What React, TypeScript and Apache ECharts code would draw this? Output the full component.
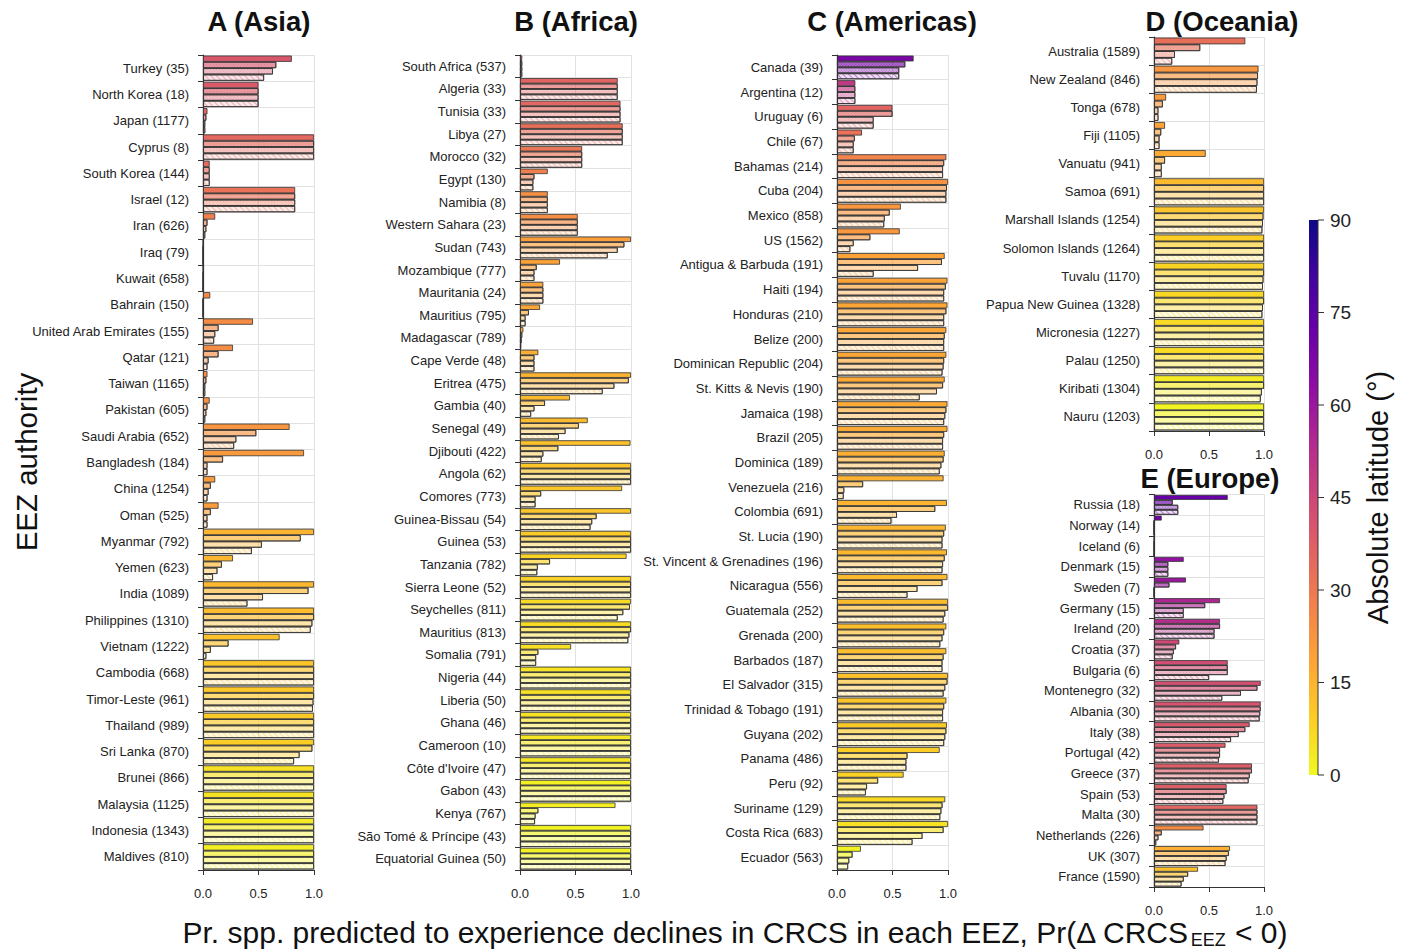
import React, { useEffect, useRef } from 'react';
import * as echarts from 'echarts';

// ---------- DATA ----------
const asiaNames = ["Turkey (35)","North Korea (18)","Japan (1177)","Cyprus (8)","South Korea (144)","Israel (12)","Iran (626)","Iraq (79)","Kuwait (658)","Bahrain (150)","United Arab Emirates (155)","Qatar (121)","Taiwan (1165)","Pakistan (605)","Saudi Arabia (652)","Bangladesh (184)","China (1254)","Oman (525)","Myanmar (792)","Yemen (623)","India (1089)","Philippines (1310)","Vietnam (1222)","Cambodia (668)","Timor-Leste (961)","Thailand (989)","Sri Lanka (870)","Brunei (866)","Malaysia (1125)","Indonesia (1343)","Maldives (810)"];
const asiaLat = [40,39,36,35,34.5,32,28,27,26.5,26,25,25,24,23.5,22.5,21.5,21,20,15,14.5,14,13,12,11,10.5,10,9,5,4.5,3,2];
const asiaS1 = [0.80,0.50,0.04,1.00,0.06,0.83,0.11,0,0,0.065,0.45,0.27,0.04,0.06,0.78,0.91,0.11,0.14,1.00,0.27,1.00,1.00,0.69,1,1,1,1,1,1,1,1];
const asiaS2 = [0.66,0.50,0.03,1.00,0.06,0.83,0.04,0,0,0,0.14,0.14,0.03,0.04,0.48,0.18,0.07,0.07,0.88,0.17,0.95,1.00,0.23,1,1,1,0.985,1,1,1,1];
const asiaS3 = [0.63,0.50,0.02,1.00,0.06,0.83,0.03,0,0,0,0.11,0.05,0.02,0.03,0.30,0.04,0.05,0.04,0.53,0.13,0.54,0.985,0.07,1,0.995,1,0.87,1,1,1,1];
const asiaS4 = [0.55,0.50,0.02,1.00,0.06,0.83,0.02,0,0,0,0.10,0.04,0.02,0.02,0.28,0.04,0.04,0.04,0.44,0.09,0.40,0.97,0.03,1,0.99,1,0.82,1,1,1,1];

const africaNames = ["South Africa (537)","Algeria (33)","Tunisia (33)","Libya (27)","Morocco (32)","Egypt (130)","Namibia (8)","Western Sahara (23)","Sudan (743)","Mozambique (777)","Mauritania (24)","Mauritius (795)","Madagascar (789)","Cape Verde (48)","Eritrea (475)","Gambia (40)","Senegal (49)","Djibouti (422)","Angola (62)","Comores (773)","Guinea-Bissau (54)","Guinea (53)","Tanzania (782)","Sierra Leone (52)","Seychelles (811)","Mauritius (813)","Somalia (791)","Nigeria (44)","Liberia (50)","Ghana (46)","Cameroon (10)","Côte d'Ivoire (47)","Gabon (43)","Kenya (767)","São Tomé & Príncipe (43)","Equatorial Guinea (50)"];
const africaLat = [38,36,35.5,33,31,28,24,24,20,19,19,18,18,16,15,13.5,13.5,12,11,11,11,10,8,8,6,6,5.5,4.5,5,4.5,3.5,4,2,2.5,1,1.5];
const africaS1 = [0.02,0.88,0.905,0.925,0.56,0.25,0.25,0.52,1.00,0.36,0.21,0.18,0.03,0.165,1.00,0.45,0.61,0.995,1,0.92,1.00,1,0.96,1,1.00,1,0.46,1,1,1,1,1,1,0.86,1,1];
const africaS2 = [0.02,0.88,0.905,0.925,0.56,0.13,0.25,0.52,0.94,0.15,0.21,0.08,0.02,0.13,0.98,0.225,0.53,0.345,1,0.19,0.69,1,0.27,1,0.99,1,0.165,1,1,1,1,1,1,0.165,1,1];
const africaS3 = [0.02,0.88,0.905,0.925,0.56,0.12,0.25,0.52,0.88,0.13,0.21,0.05,0.015,0.13,0.85,0.13,0.41,0.21,1,0.14,0.65,1,0.16,1,0.93,0.985,0.145,1,1,1,1,1,1,0.14,1,1];
const africaS4 = [0.02,0.88,0.905,0.925,0.56,0.12,0.25,0.52,0.79,0.13,0.21,0.05,0.01,0.13,0.745,0.10,0.35,0.195,1,0.14,0.635,1,0.155,1,0.88,0.975,0.145,1,1,1,1,1,1,0.135,1,1];

const americasNames = ["Canada (39)","Argentina (12)","Uruguay (6)","Chile (67)","Bahamas (214)","Cuba (204)","Mexico (858)","US (1562)","Antigua & Barbuda (191)","Haiti (194)","Honduras (210)","Belize (200)","Dominican Republic (204)","St. Kitts & Nevis (190)","Jamaica (198)","Brazil (205)","Dominica (189)","Venezuela (216)","Colombia (691)","St. Lucia (190)","St. Vincent & Grenadines (196)","Nicaragua (556)","Guatemala (252)","Grenada (200)","Barbados (187)","El Salvador (315)","Trinidad & Tobago (191)","Guyana (202)","Panama (486)","Peru (92)","Suriname (129)","Costa Rica (683)","Ecuador (563)"];
const americasLat = [68,49,36,32,27,23,22,22,19,19,18,18,18,17.5,17,17,16,15.5,15,14.5,14,13.5,13,12.5,12.5,12,11,10,9,8,7,5,1];
const americasS1 = [0.69,0.165,0.50,0.225,0.985,1.00,0.575,0.565,0.97,0.995,0.995,0.985,0.985,0.97,0.995,0.995,0.97,0.96,0.99,0.98,0.99,0.995,1.00,0.985,0.985,1.00,0.985,0.99,0.925,0.60,0.975,1.00,0.215];
const americasS2 = [0.615,0.165,0.50,0.16,0.965,0.99,0.475,0.30,0.945,0.98,0.985,0.97,0.965,0.955,0.985,0.965,0.96,0.235,0.885,0.965,0.97,0.95,1.00,0.965,0.96,0.995,0.965,0.985,0.635,0.37,0.95,0.96,0.14];
const americasS3 = [0.56,0.165,0.33,0.15,0.955,0.985,0.43,0.15,0.73,0.965,0.965,0.965,0.96,0.90,0.975,0.955,0.94,0.065,0.54,0.95,0.955,0.725,0.975,0.95,0.95,0.975,0.955,0.975,0.625,0.27,0.94,0.77,0.11];
const americasS4 = [0.56,0.165,0.33,0.15,0.955,0.985,0.425,0.12,0.33,0.965,0.965,0.965,0.95,0.745,0.965,0.955,0.925,0.06,0.49,0.95,0.95,0.635,0.96,0.93,0.95,0.96,0.955,0.965,0.625,0.26,0.93,0.68,0.10];

const oceaniaNames = ["Australia (1589)","New Zealand (846)","Tonga (678)","Fiji (1105)","Vanuatu (941)","Samoa (691)","Marshall Islands (1254)","Solomon Islands (1264)","Tuvalu (1170)","Papua New Guinea (1328)","Micronesia (1227)","Palau (1250)","Kiribati (1304)","Nauru (1203)"];
const oceaniaLat = [33,22,21,19,17,13.5,11,9,8,7,6.5,6,3,1];
const oceaniaS1 = [0.83,0.95,0.11,0.10,0.47,1,1,1,1,1,1,1,1,1];
const oceaniaS2 = [0.42,0.945,0.08,0.065,0.10,1,0.995,1,1,1,1,1,1,1];
const oceaniaS3 = [0.19,0.94,0.04,0.05,0.07,1,0.99,1,0.995,0.99,1,1,0.98,1];
const oceaniaS4 = [0.165,0.935,0.04,0.05,0.07,1,0.985,1,0.99,0.985,1,1,0.97,1];

const europeNames = ["Russia (18)","Norway (14)","Iceland (6)","Denmark (15)","Sweden (7)","Germany (15)","Ireland (20)","Croatia (37)","Bulgaria (6)","Montenegro (32)","Albania (30)","Italy (38)","Portugal (42)","Greece (37)","Spain (53)","Malta (30)","Netherlands (226)","UK (307)","France (1590)"];
const europeLat = [72,70,65,62,60,55,53,44,43,42.5,41,40,38.5,38,37.5,35.5,25,16,12];
const europeS1 = [0.67,0.07,0,0.27,0.29,0.60,0.60,0.23,0.67,0.97,0.97,0.87,0.65,0.89,0.66,0.94,0.45,0.69,0.40];
const europeS2 = [0.17,0,0,0.13,0.14,0.465,0.60,0.20,0.67,0.94,0.97,0.83,0.60,0.89,0.66,0.94,0.07,0.68,0.31];
const europeS3 = [0.22,0,0,0.13,0,0.27,0.55,0.18,0.67,0.79,0.965,0.77,0.60,0.87,0.64,0.94,0.04,0.66,0.27];
const europeS4 = [0.22,0,0,0.13,0,0.27,0.55,0.17,0.50,0.62,0.96,0.70,0.59,0.86,0.63,0.94,0.02,0.65,0.25];

const panelTitles = ["A (Asia)", "B (Africa)", "C (Americas)", "D (Oceania)", "E (Europe)"];
const cbTicks = [0, 15, 30, 45, 60, 75, 90];

// ---------- COLOURS ----------
const plasmaStops = ['#0d0887','#41049d','#6a00a8','#8f0da4','#b12a90','#cc4778','#e16462','#f2844b','#fca636','#fcce25','#f0f921'];
function hexRgb(h: string) {
  return [parseInt(h.slice(1, 3), 16), parseInt(h.slice(3, 5), 16), parseInt(h.slice(5, 7), 16)];
}
function plasma(t: number) {
  const tt = Math.max(0, Math.min(1, t)) * 10;
  const i = Math.min(9, Math.floor(tt));
  const f = tt - i;
  const a = hexRgb(plasmaStops[i]);
  const b = hexRgb(plasmaStops[i + 1]);
  return [0, 1, 2].map((k) => Math.round(a[k] + (b[k] - a[k]) * f));
}
const latRgb = (lat: number) => plasma(1 - lat / 90);
const rgba = (c: number[], a: number) => `rgba(${c[0]},${c[1]},${c[2]},${a})`;

const FONT = "'Liberation Sans', Arial, Helvetica, sans-serif";
const alphas = [1, 0.6, 0.35, 0.13];

function decalFor(k: number, c: number[]) {
  if (k === 0) return undefined;
  if (k === 3) {
    return { symbol: 'rect', symbolSize: 1, dashArrayX: [1, 0], dashArrayY: [1, 3], rotation: Math.PI / 4, color: rgba(c, 0.45) };
  }
  return { symbol: 'rect', symbolSize: 1, dashArrayX: [1, 1], dashArrayY: [1, 1], rotation: Math.PI / 4, color: rgba(c, k === 1 ? 0.45 : 0.35) };
}

function measure(text: string, font: string) {
  const ctx = document.createElement('canvas').getContext('2d');
  if (!ctx) return text.length * 12;
  ctx.font = font;
  return ctx.measureText(text).width;
}

export default function App() {
  const ref = useRef<HTMLDivElement>(null);
  useEffect(() => {
    if (!ref.current) return;
    const chart = echarts.init(ref.current, undefined, { renderer: 'svg' });

    const panels = [
      { names: asiaNames, lat: asiaLat, vals: [asiaS1, asiaS2, asiaS3, asiaS4], left: 203, width: 111, top: 55, height: 815 },
      { names: africaNames, lat: africaLat, vals: [africaS1, africaS2, africaS3, africaS4], left: 520, width: 111, top: 55, height: 815 },
      { names: americasNames, lat: americasLat, vals: [americasS1, americasS2, americasS3, americasS4], left: 837, width: 111, top: 55, height: 815 },
      { names: oceaniaNames, lat: oceaniaLat, vals: [oceaniaS1, oceaniaS2, oceaniaS3, oceaniaS4], left: 1154, width: 110, top: 37, height: 394 },
      { names: europeNames, lat: europeLat, vals: [europeS1, europeS2, europeS3, europeS4], left: 1154, width: 110, top: 494.5, height: 392.5 },
    ];

    const grid: any[] = [];
    const xAxis: any[] = [];
    const yAxis: any[] = [];
    const series: any[] = [];

    panels.forEach((p, pi) => {
      grid.push({ left: p.left, top: p.top, width: p.width, height: p.height, containLabel: false });
      xAxis.push({
        type: 'value', gridIndex: pi, min: 0, max: 1, interval: 0.5,
        axisLine: { show: true, lineStyle: { color: '#333', width: 1 } },
        axisTick: { show: true, length: 5, lineStyle: { color: '#333' } },
        axisLabel: { fontSize: 13, color: '#222', fontFamily: FONT, margin: 17, formatter: (v: number) => v.toFixed(1) },
        splitLine: { show: true, lineStyle: { color: '#e2e2e2', width: 1 } },
      });
      yAxis.push({
        type: 'category', gridIndex: pi, data: p.names, inverse: true,
        axisLine: { show: true, lineStyle: { color: '#333', width: 1.2 } },
        axisTick: { show: true, length: 5, interval: 0, lineStyle: { color: '#333' } },
        axisLabel: { interval: 0, fontSize: 13, color: '#222', fontFamily: FONT, margin: 14 },
        splitLine: { show: true, interval: 0, lineStyle: { color: '#e2e2e2', width: 1 } },
      });
      const cols = p.lat.map(latRgb);
      for (let k = 0; k < 4; k++) {
        series.push({
          type: 'bar', xAxisIndex: pi, yAxisIndex: pi, silent: true,
          barGap: '0%', barCategoryGap: '4%',
          itemStyle: { borderColor: '#333', borderWidth: 0.8 },
          data: p.vals[k].map((v, i) => ({
            value: v,
            itemStyle: { color: rgba(cols[i], alphas[k]), decal: decalFor(k, cols[i]) },
          })),
        });
      }
    });

    const graphic: any[] = [];
    const titlePos = [[259, 21], [576, 21], [892, 21], [1222, 21], [1210, 478]];
    panelTitles.forEach((t, i) => {
      graphic.push({
        type: 'text', x: titlePos[i][0], y: titlePos[i][1],
        style: { text: t, fontSize: 27.5, fontWeight: 'bold', fontFamily: FONT, fill: '#111', textAlign: 'center', textVerticalAlign: 'middle' },
      });
    });
    graphic.push({
      type: 'text', x: 26, y: 462, rotation: Math.PI / 2,
      style: { text: 'EEZ authority', fontSize: 29.5, fontFamily: FONT, fill: '#111', textAlign: 'center', textVerticalAlign: 'middle' },
    });

    // bottom x label with subscript
    const mainFont = 30, subFont = 18;
    const partA = 'Pr. spp. predicted to experience declines in CRCS in each EEZ, Pr(Δ CRCS';
    const partB = 'EEZ';
    const partC = ' < 0)';
    const wA = measure(partA, `${mainFont}px ${FONT}`);
    const wB = measure(partB, `${subFont}px ${FONT}`);
    const wC = measure(partC, `${mainFont}px ${FONT}`);
    const total = wA + wB + wC;
    const x0 = 734 - total / 2;
    const by = 932;
    graphic.push({ type: 'text', x: x0, y: by, style: { text: partA, fontSize: mainFont, fontFamily: FONT, fill: '#111', textAlign: 'left', textVerticalAlign: 'middle' } });
    graphic.push({ type: 'text', x: x0 + wA + 1, y: by + 8, style: { text: partB, fontSize: subFont, fontFamily: FONT, fill: '#111', textAlign: 'left', textVerticalAlign: 'middle' } });
    graphic.push({ type: 'text', x: x0 + wA + wB + 2, y: by, style: { text: partC, fontSize: mainFont, fontFamily: FONT, fill: '#111', textAlign: 'left', textVerticalAlign: 'middle' } });

    // colour bar
    const cbX = 1309, cbY = 220, cbW = 9, cbH = 555;
    graphic.push({
      type: 'rect', shape: { x: cbX, y: cbY, width: cbW, height: cbH },
      style: {
        fill: new echarts.graphic.LinearGradient(0, 0, 0, 1, plasmaStops.map((c, i) => ({ offset: i / 10, color: c }))),
      },
    });
    graphic.push({ type: 'line', shape: { x1: cbX + cbW, y1: cbY, x2: cbX + cbW, y2: cbY + cbH }, style: { stroke: '#333', lineWidth: 1 } });
    cbTicks.forEach((v) => {
      const y = cbY + cbH - (v / 90) * cbH;
      graphic.push({ type: 'line', shape: { x1: cbX + cbW, y1: y, x2: cbX + cbW + 6, y2: y }, style: { stroke: '#333', lineWidth: 1 } });
      graphic.push({ type: 'text', x: cbX + cbW + 12, y, style: { text: String(v), fontSize: 19, fontFamily: FONT, fill: '#222', textAlign: 'left', textVerticalAlign: 'middle' } });
    });
    graphic.push({
      type: 'text', x: 1378, y: cbY + cbH / 2, rotation: Math.PI / 2,
      style: { text: 'Absolute latitude (°)', fontSize: 29, fontFamily: FONT, fill: '#111', textAlign: 'center', textVerticalAlign: 'middle' },
    });

    chart.setOption({
      animation: false,
      backgroundColor: '#ffffff',
      textStyle: { fontFamily: FONT },
      grid, xAxis, yAxis, series, graphic,
    });
    return () => chart.dispose();
  }, []);
  return <div ref={ref} style={{ position: 'fixed', left: 0, top: 0, width: 1408, height: 951 }} />;
}
